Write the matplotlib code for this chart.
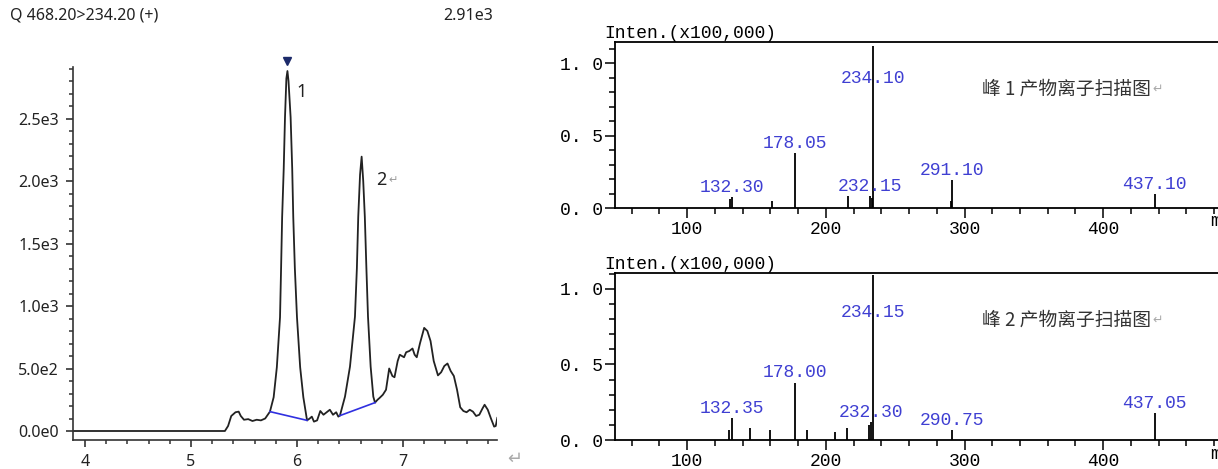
import matplotlib
matplotlib.use('Agg')
import matplotlib.pyplot as plt
from matplotlib.ticker import MultipleLocator

# ---- MRM chromatogram Q 468.20>234.20 (+) ----
rt = [3.89, 5.32, 5.35, 5.38, 5.42, 5.45, 5.47, 5.50, 5.54, 5.58, 5.62, 5.66, 5.70,
      5.745, 5.78, 5.81, 5.84, 5.85, 5.86, 5.875, 5.887, 5.90, 5.91, 5.92, 5.94, 5.955,
      5.965, 5.98, 6.00, 6.03, 6.06, 6.095,
      6.12, 6.14, 6.16, 6.19, 6.22, 6.25, 6.28, 6.31, 6.34, 6.37, 6.39,
      6.405, 6.453, 6.50, 6.547, 6.565, 6.578, 6.595, 6.61, 6.625, 6.64, 6.655, 6.67,
      6.695, 6.72, 6.736,
      6.76, 6.78, 6.81, 6.84, 6.87, 6.90, 6.92, 6.95, 6.97, 6.99, 7.01, 7.03, 7.06,
      7.09, 7.11, 7.13, 7.16, 7.20, 7.23, 7.26, 7.29, 7.33, 7.36, 7.39, 7.42, 7.45,
      7.48, 7.51, 7.54, 7.57, 7.60, 7.63, 7.66, 7.69, 7.72, 7.75, 7.77, 7.80, 7.83,
      7.86, 7.875, 7.89]
counts = [0, 0, 40, 120, 150, 155, 120, 90, 95, 80, 90, 85, 100,
          155, 270, 510, 910, 1300, 1710, 2100, 2510, 2820, 2880, 2800, 2510, 2100,
          1710, 1300, 910, 510, 270, 85,
          100, 115, 75, 85, 160, 130, 150, 170, 130, 150, 115,
          123, 275, 515, 915, 1300, 1715, 2050, 2195, 2000, 1715, 1300, 915,
          515, 275, 227,
          250, 265, 290, 330, 500, 440, 430, 560, 610, 600, 590, 630, 640,
          660, 610, 590, 700, 825, 800, 720, 560, 445, 470, 520, 540, 480,
          440, 330, 190, 160, 150, 170, 155, 120, 130, 180, 210, 170, 100,
          35, 40, 105]

# integration baselines under peaks 1 and 2
base1_rt = [5.745, 6.095]
base1_y = [155, 85]
base2_rt = [6.405, 6.736]
base2_y = [123, 227]

apex_rt = 5.91
apex_top = 2960

ytick_vals = [0, 500, 1000, 1500, 2000, 2500]
ytick_text = ['0.0e0', '5.0e2', '1.0e3', '1.5e3', '2.0e3', '2.5e3']
xtick_vals = [4, 5, 6, 7]

# ---- product ion spectra ----
mz1 = [131.0, 132.30, 161.0, 178.05, 216.0, 232.15, 233.2, 234.10, 290.2, 291.10, 437.10]
int1 = [0.06, 0.075, 0.05, 0.38, 0.08, 0.08, 0.07, 1.12, 0.05, 0.19, 0.095]
lab1 = [132.30, 178.05, 232.15, 234.10, 291.10, 437.10]

mz2 = [130.0, 132.35, 145.0, 160.0, 178.00, 186.5, 206.7, 215.4, 231.0, 232.30, 234.15,
       290.75, 437.05]
int2 = [0.066, 0.145, 0.08, 0.066, 0.38, 0.066, 0.055, 0.08, 0.10, 0.12, 1.09,
        0.066, 0.18]
lab2 = [132.35, 178.00, 232.30, 234.15, 290.75, 437.05]

blue = '#3f3fd2'
mono = 'Liberation Mono'
W, H = 1218, 469

fig = plt.figure(figsize=(W / 100, H / 100), dpi=100)

# left panel: chromatogram
ax = fig.add_axes([73 / W, 1 - 440 / H, (497 - 73) / W, (440 - 67) / H])
ax.plot(rt, counts, color='#222222', lw=1.3)
ax.plot(base1_rt, base1_y, color='#3030e0', lw=1.2)
ax.plot(base2_rt, base2_y, color='#3030e0', lw=1.2)
ax.plot([apex_rt], [apex_top], marker='v', ms=6, color='#1c2a6a', clip_on=False)
ax.set_xlim(3.887, 7.887)
ax.set_ylim(-72, 2912)
for s in ['top', 'right']:
    ax.spines[s].set_visible(False)
for s in ['left', 'bottom']:
    ax.spines[s].set_color('#333333')
    ax.spines[s].set_linewidth(1.2)
ax.set_yticks(ytick_vals)
ax.set_yticklabels(ytick_text)
ax.set_xticks(xtick_vals)
ax.yaxis.set_minor_locator(MultipleLocator(100))
ax.xaxis.set_minor_locator(MultipleLocator(0.2))
ax.tick_params(which='major', length=5, width=1.2, color='#333333',
               labelsize=11.5, labelcolor='#222222', pad=5)
ax.tick_params(which='minor', length=3, width=1.1, color='#333333')
for lbl in ax.get_xticklabels() + ax.get_yticklabels():
    lbl.set_family('Noto Sans')
ax.text(6.04, 2710, '1', fontsize=13, family='Noto Sans', color='#222222',
        ha='center', va='center')
ax.text(6.80, 2010, '2', fontsize=13, family='Noto Sans', color='#222222',
        ha='center', va='center')
ax.text(6.86, 2010, '\u21b5', fontsize=8, color='#999999', ha='left', va='center')

fig.text(10 / W, 1 - 16 / H, 'Q 468.20>234.20 (+)', fontsize=11.5, family='Noto Sans',
         color='#222222', ha='left', va='center')
fig.text(493 / W, 1 - 16 / H, '2.91e3', fontsize=11.5, family='Noto Sans',
         color='#222222', ha='right', va='center')
fig.text(515 / W, 1 - 459 / H, '\u21b5', fontsize=13, color='#aaaaaa',
         ha='center', va='center')

# right panels: spectra, x axis runs past the right edge of the canvas
px_per_mz = 1.387
x_lo = 48
x_hi = 500
right_px = 615 + (x_hi - x_lo) * px_per_mz


def spectrum(top_px, bot_px, ymax, mz, inten, labels, big_y, title):
    a = fig.add_axes([615 / W, 1 - bot_px / H, (right_px - 615) / W, (bot_px - top_px) / H])
    a.vlines(mz, 0, inten, color='black', lw=1.3)
    peak = dict(zip(mz, inten))
    for m in labels:
        y = peak[m]
        if y > 0.5:
            y = big_y
        a.text(m, y + 0.008, f'{m:.2f}', ha='center', va='bottom', color=blue,
               family=mono, fontsize=13)
    a.set_xlim(x_lo, x_hi)
    a.set_ylim(0, ymax)
    a.set_xticks([100, 200, 300, 400])
    a.set_yticks([0, 0.5, 1.0])
    a.set_yticklabels(['0. 0', '0. 5', '1. 0'])
    a.xaxis.set_minor_locator(MultipleLocator(20))
    a.yaxis.set_minor_locator(MultipleLocator(0.1))
    a.tick_params(which='major', length=7, width=1.1, labelsize=13, pad=2)
    a.tick_params(which='minor', length=4, width=1.1)
    for lbl in a.get_xticklabels() + a.get_yticklabels():
        lbl.set_family(mono)
    for s in a.spines.values():
        s.set_linewidth(1.3)
    a.text(-0.017, 1.0, 'Inten.(x100,000)', transform=a.transAxes, family=mono,
           fontsize=13, ha='left', va='bottom')
    a.text(0.855, 0.715, title, transform=a.transAxes, fontsize=13.5,
           family=['Noto Sans CJK SC', 'DejaVu Sans'], color='#333333',
           ha='right', va='center')
    a.text(0.857, 0.715, '\u21b5', transform=a.transAxes, fontsize=9,
           color='#aaaaaa', ha='left', va='center')
    fig.text(1210 / W, 1 - (bot_px + 14) / H, 'm/z', family=mono, fontsize=13,
             ha='left', va='center')
    return a


spectrum(42, 208, 1.145, mz1, int1, lab1, 0.83, '峰 1 产物离子扫描图')
spectrum(273, 440, 1.105, mz2, int2, lab2, 0.78, '峰 2 产物离子扫描图')

fig.savefig('out.png', dpi=100)
